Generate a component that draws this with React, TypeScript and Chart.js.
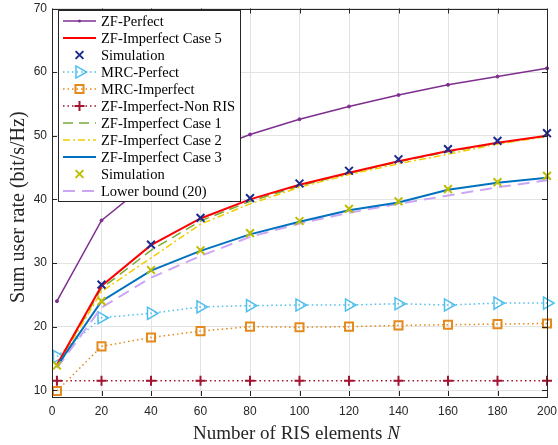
import React, { useEffect, useRef } from 'react';
import { Chart, registerables } from 'chart.js';

Chart.register(...registerables);

// ---------- data ----------
const N = [2, 20, 40, 60, 80, 100, 120, 140, 160, 180, 200];
const yTicks = [10, 20, 30, 40, 50, 60, 70];
const xTicks = [0, 20, 40, 60, 80, 100, 120, 140, 160, 180, 200];

const zfPerfect = [24.0, 36.7, 43.0, 47.2, 50.2, 52.6, 54.6, 56.4, 58.0, 59.3, 60.6];
const zfCase5 = [14.0, 26.4, 32.8, 37.0, 40.0, 42.3, 44.2, 46.0, 47.6, 48.9, 50.0];
const simCase5 = [null, 26.6, 32.9, 37.1, 40.2, 42.5, 44.5, 46.3, 47.9, 49.2, 50.4];
const mrcPerfect = [15.3, 21.4, 22.1, 23.1, 23.3, 23.4, 23.4, 23.6, 23.4, 23.7, 23.7];
const mrcImperfect = [9.9, 16.9, 18.3, 19.3, 20.0, 19.9, 20.0, 20.2, 20.3, 20.4, 20.5];
const zfNonRis = [11.5, 11.5, 11.5, 11.5, 11.5, 11.5, 11.5, 11.5, 11.5, 11.5, 11.5];
const zfCase1 = [13.9, 26.0, 32.0, 36.6, 39.7, 42.1, 44.1, 45.9, 47.5, 48.8, 50.0];
const zfCase2 = [13.8, 25.5, 30.8, 36.1, 39.3, 41.9, 43.9, 45.6, 47.1, 48.7, 49.9];
const zfCase3 = [13.8, 24.0, 28.8, 31.9, 34.5, 36.5, 38.3, 39.5, 41.5, 42.6, 43.4];
const simCase3 = [13.9, 24.0, 28.9, 32.0, 34.7, 36.6, 38.5, 39.7, 41.6, 42.7, 43.7];
const lowerBound = [13.5, 23.0, 27.7, 31.1, 34.1, 36.2, 37.9, 39.3, 40.6, 41.9, 43.0];

const labels = [
  'ZF-Perfect',
  'ZF-Imperfect Case 5',
  'Simulation',
  'MRC-Perfect',
  'MRC-Imperfect',
  'ZF-Imperfect-Non RIS',
  'ZF-Imperfect Case 1',
  'ZF-Imperfect Case 2',
  'ZF-Imperfect Case 3',
  'Simulation',
  'Lower bound (20)',
];

const AXIS = '#262626';
const SERIF = '"Liberation Serif", "Times New Roman", serif';
const SANS = '"Liberation Sans", Arial, sans-serif';

type Style = {
  color: string;
  width: number;
  dash: number[];
  line: boolean;
  marker: string | null;
  mRadius: number;
  mWidth: number;
  mRot: number;
  mFill: boolean;
};

const styles: Style[] = [
  { color: '#7E2F8E', width: 1.5, dash: [], line: true, marker: 'circle', mRadius: 1.5, mWidth: 1, mRot: 0, mFill: true },
  { color: '#FF0000', width: 2, dash: [], line: true, marker: null, mRadius: 0, mWidth: 0, mRot: 0, mFill: false },
  { color: '#1B2A8C', width: 2, dash: [], line: false, marker: 'crossRot', mRadius: 5.5, mWidth: 2, mRot: 0, mFill: false },
  { color: '#4DBEEE', width: 1.5, dash: [1.5, 3], line: true, marker: 'triangle', mRadius: 7, mWidth: 1.5, mRot: 90, mFill: false },
  { color: '#E48A1C', width: 1.5, dash: [1.5, 3], line: true, marker: 'rect', mRadius: 5.7, mWidth: 2, mRot: 0, mFill: false },
  { color: '#A2142F', width: 1.5, dash: [1.5, 3], line: true, marker: 'cross', mRadius: 5, mWidth: 2, mRot: 0, mFill: false },
  { color: '#77AC30', width: 1.5, dash: [10, 6], line: true, marker: null, mRadius: 0, mWidth: 0, mRot: 0, mFill: false },
  { color: '#F2CC00', width: 1.5, dash: [7, 3, 2, 3], line: true, marker: null, mRadius: 0, mWidth: 0, mRot: 0, mFill: false },
  { color: '#0072BD', width: 2, dash: [], line: true, marker: null, mRadius: 0, mWidth: 0, mRot: 0, mFill: false },
  { color: '#BDBD00', width: 2, dash: [], line: false, marker: 'crossRot', mRadius: 5.5, mWidth: 2, mRot: 0, mFill: false },
  { color: '#CBA6F5', width: 2, dash: [12, 7], line: true, marker: null, mRadius: 0, mWidth: 0, mRot: 0, mFill: false },
];

const series = [
  zfPerfect, zfCase5, simCase5, mrcPerfect, mrcImperfect, zfNonRis,
  zfCase1, zfCase2, zfCase3, simCase3, lowerBound,
];
// drawing weight: higher drawn first (underneath)
const drawOrder = [10, 5, 1, 9, 9, 9, 7, 6, 4, 2, 8];

function drawMarker(ctx: CanvasRenderingContext2D, s: Style, x: number, y: number) {
  if (!s.marker) return;
  const r = s.mRadius;
  ctx.save();
  ctx.setLineDash([]);
  ctx.strokeStyle = s.color;
  ctx.fillStyle = s.color;
  ctx.lineWidth = s.mWidth;
  ctx.beginPath();
  if (s.marker === 'circle') {
    ctx.arc(x, y, r, 0, Math.PI * 2);
    ctx.fill();
  } else if (s.marker === 'crossRot') {
    const o = r * Math.SQRT1_2;
    ctx.moveTo(x - o, y - o); ctx.lineTo(x + o, y + o);
    ctx.moveTo(x - o, y + o); ctx.lineTo(x + o, y - o);
    ctx.stroke();
  } else if (s.marker === 'cross') {
    ctx.moveTo(x - r, y); ctx.lineTo(x + r, y);
    ctx.moveTo(x, y - r); ctx.lineTo(x, y + r);
    ctx.stroke();
  } else if (s.marker === 'rect') {
    const h = r * Math.SQRT1_2;
    ctx.rect(x - h, y - h, 2 * h, 2 * h);
    ctx.stroke();
  } else if (s.marker === 'triangle') {
    let a = (s.mRot * Math.PI) / 180;
    ctx.moveTo(x + Math.sin(a) * r, y - Math.cos(a) * r);
    a += (2 * Math.PI) / 3;
    ctx.lineTo(x + Math.sin(a) * r, y - Math.cos(a) * r);
    a += (2 * Math.PI) / 3;
    ctx.lineTo(x + Math.sin(a) * r, y - Math.cos(a) * r);
    ctx.closePath();
    ctx.stroke();
  }
  ctx.restore();
}

const framePlugin = {
  id: 'framePlugin',
  afterDatasetsDraw(chart: any) {
    const ctx: CanvasRenderingContext2D = chart.ctx;
    const { left, right, top, bottom } = chart.chartArea;
    const xs = chart.scales.x;
    const ys = chart.scales.y;
    ctx.save();
    ctx.strokeStyle = AXIS;
    ctx.lineWidth = 1;
    ctx.setLineDash([]);
    ctx.strokeRect(Math.round(left) + 0.5, Math.round(top) + 0.5, Math.round(right - left), Math.round(bottom - top));
    const tl = 5;
    ctx.beginPath();
    xTicks.forEach((v) => {
      const px = Math.round(xs.getPixelForValue(v)) + 0.5;
      ctx.moveTo(px, bottom); ctx.lineTo(px, bottom - tl);
      ctx.moveTo(px, top); ctx.lineTo(px, top + tl);
    });
    yTicks.forEach((v) => {
      const py = Math.round(ys.getPixelForValue(v)) + 0.5;
      ctx.moveTo(left, py); ctx.lineTo(left + tl, py);
      ctx.moveTo(right, py); ctx.lineTo(right - tl, py);
    });
    ctx.stroke();
    ctx.restore();
  },
  afterDraw(chart: any) {
    const ctx: CanvasRenderingContext2D = chart.ctx;
    const { left, right, top, bottom } = chart.chartArea;
    ctx.save();
    // legend box
    const bx = 58.5, by = 10.5, bw = 182, bh = 191;
    ctx.fillStyle = '#ffffff';
    ctx.fillRect(bx, by, bw, bh);
    ctx.strokeStyle = AXIS;
    ctx.lineWidth = 1;
    ctx.setLineDash([]);
    ctx.strokeRect(bx, by, bw, bh);
    ctx.font = `14.5px ${SERIF}`;
    ctx.textBaseline = 'middle';
    ctx.textAlign = 'left';
    labels.forEach((lab, i) => {
      const s = styles[i];
      const y = 21 + i * 17;
      if (s.line) {
        ctx.save();
        ctx.strokeStyle = s.color;
        ctx.lineWidth = s.width;
        ctx.setLineDash(s.dash);
        ctx.beginPath();
        ctx.moveTo(63, y);
        ctx.lineTo(96, y);
        ctx.stroke();
        ctx.restore();
      }
      drawMarker(ctx, s, 79.5, y);
      ctx.fillStyle = '#000000';
      ctx.fillText(lab, 101, y + 1);
    });
    // x axis title
    ctx.fillStyle = AXIS;
    ctx.textBaseline = 'alphabetic';
    const part1 = 'Number of RIS elements ';
    const part2 = 'N';
    ctx.font = `19px ${SERIF}`;
    const w1 = ctx.measureText(part1).width;
    ctx.font = `italic 19px ${SERIF}`;
    const w2 = ctx.measureText(part2).width;
    const cx = (left + right) / 2 - 3;
    const sx = cx - (w1 + w2) / 2;
    ctx.font = `19px ${SERIF}`;
    ctx.fillText(part1, sx, 439);
    ctx.font = `italic 19px ${SERIF}`;
    ctx.fillText(part2, sx + w1, 439);
    // y axis title
    ctx.save();
    ctx.translate(24, (top + bottom) / 2 + 5);
    ctx.rotate(-Math.PI / 2);
    ctx.font = `20px ${SERIF}`;
    ctx.textAlign = 'center';
    ctx.fillText('Sum user rate (bit/s/Hz)', 0, 0);
    ctx.restore();
    ctx.restore();
  },
};

export default function App() {
  const ref = useRef<HTMLCanvasElement | null>(null);
  useEffect(() => {
    if (!ref.current) return;
    const datasets = series.map((vals, i) => {
      const s = styles[i];
      return {
        label: labels[i],
        data: N.map((n, k) => ({ x: n, y: vals[k] })),
        borderColor: s.color,
        backgroundColor: s.mFill ? s.color : 'rgba(0,0,0,0)',
        borderWidth: s.width,
        borderDash: s.dash,
        showLine: s.line,
        pointStyle: s.marker || 'circle',
        pointRadius: s.marker ? s.mRadius : 0,
        pointHoverRadius: s.marker ? s.mRadius : 0,
        pointBorderWidth: s.mWidth,
        pointRotation: s.mRot,
        pointBorderColor: s.color,
        pointBackgroundColor: s.mFill ? s.color : 'rgba(0,0,0,0)',
        tension: 0,
        clip: false as any,
        order: drawOrder[i],
      };
    });
    const chart = new Chart(ref.current, {
      type: 'line',
      data: { datasets },
      options: {
        responsive: false,
        animation: false,
        devicePixelRatio: 1,
        layout: { padding: { top: 7, right: 11, left: 0, bottom: 0 } },
        plugins: { legend: { display: false }, tooltip: { enabled: false } },
        scales: {
          x: {
            type: 'linear',
            min: 0,
            max: 200,
            afterBuildTicks: (axis: any) => {
              axis.ticks = xTicks.map((v) => ({ value: v }));
            },
            afterFit: (axis: any) => {
              axis.height = 49;
              axis.paddingLeft = 0;
              axis.paddingRight = 0;
            },
            grid: { color: '#e3e3e3', drawTicks: false, lineWidth: 1 },
            border: { display: false },
            ticks: {
              color: AXIS,
              font: { family: SANS, size: 12 },
              padding: 8,
              maxRotation: 0,
            },
          },
          y: {
            type: 'linear',
            min: 9.1,
            max: 70,
            afterBuildTicks: (axis: any) => {
              axis.ticks = yTicks.map((v) => ({ value: v }));
            },
            afterFit: (axis: any) => {
              axis.width = 52;
              axis.paddingTop = 0;
              axis.paddingBottom = 0;
            },
            grid: { color: '#e3e3e3', drawTicks: false, lineWidth: 1 },
            border: { display: false },
            ticks: {
              color: AXIS,
              font: { family: SANS, size: 12 },
              padding: 5,
            },
          },
        },
      },
      plugins: [framePlugin],
    });
    return () => chart.destroy();
  }, []);
  return (
    <div style={{ position: 'fixed', left: 0, top: 0, width: 558, height: 445, background: '#ffffff' }}>
      <canvas ref={ref} width={558} height={445} style={{ width: 558, height: 445 }} />
    </div>
  );
}
